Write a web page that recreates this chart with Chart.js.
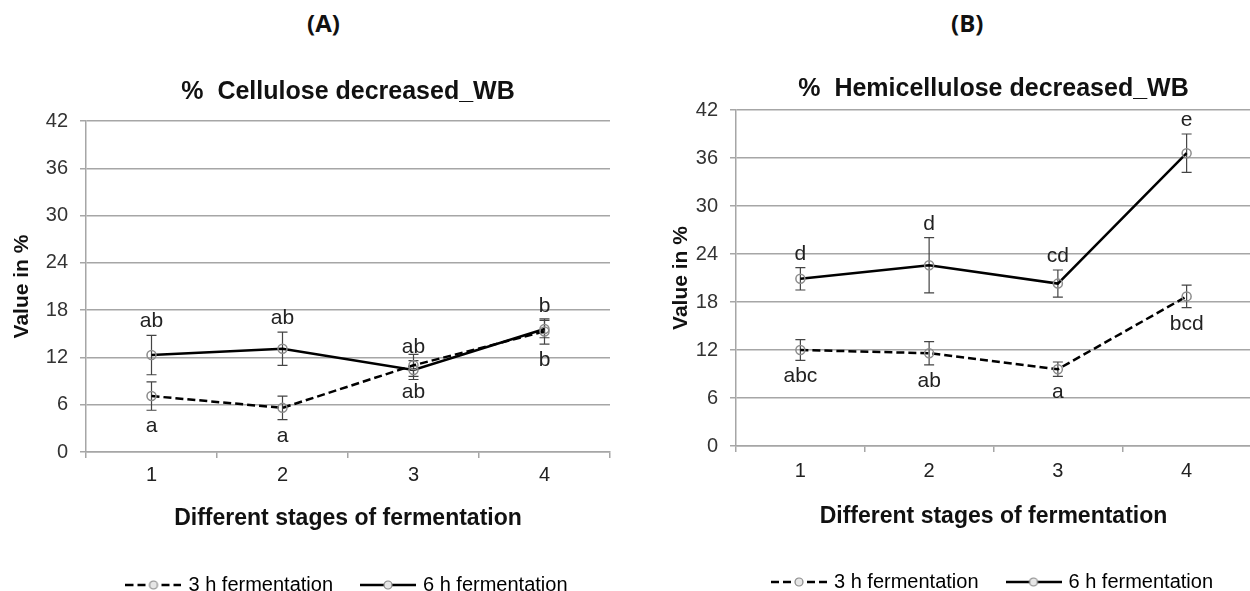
<!DOCTYPE html>
<html>
<head>
<meta charset="utf-8">
<script src="https://cdn.jsdelivr.net/npm/chart.js@4.4.0/dist/chart.umd.min.js"></script>
<style>
  html, body { margin: 0; padding: 0; width: 1250px; height: 591px; overflow: hidden; background: #fff; }
  .panel { position: absolute; top: 0; }
  .tag { position: absolute; top: 8px; font: bold 24px "Open Sans", sans-serif; color: #111; line-height: 30px; }
</style>
</head>
<body>
<div class="tag" style="left:307px">(A)</div>
<div class="tag" style="left:951px">(B)</div>
<div class="panel" style="left:0"><canvas id="chartA" width="625" height="605"></canvas></div>
<div class="panel" style="left:625px"><canvas id="chartB" width="632" height="602"></canvas></div>
<script>
// values (means and +/- error)
const stages = ['1', '2', '3', '4'];
const yMax = 42, yStep = 6;

const cellulose3h = [7.1, 5.6, 11.0, 15.3];
const cellulose3hErr = [1.8, 1.5, 1.4, 1.6];
const cellulose6h = [12.3, 13.1, 10.4, 15.6];
const cellulose6hErr = [2.5, 2.1, 1.2, 1.1];
const celluloseAbove = ['ab', 'ab', 'ab', 'b'];
const celluloseBelow = ['a', 'a', 'ab', 'b'];

const hemi3h = [12.0, 11.6, 9.6, 18.7];
const hemi3hErr = [1.3, 1.45, 0.9, 1.4];
const hemi6h = [20.9, 22.6, 20.3, 36.6];
const hemi6hErr = [1.4, 3.45, 1.7, 2.4];
const hemiAbove = ['d', 'd', 'cd', 'e'];
const hemiBelow = ['abc', 'ab', 'a', 'bcd'];

const FONT = '"Liberation Sans", Arial, sans-serif';
Chart.defaults.font.family = FONT;
const GRID = '#a6a6a6';

// error bars drawn from the y scale
const errorBars = {
  id: 'errorBars',
  beforeDatasetsDraw(chart) {
    const ctx = chart.ctx, y = chart.scales.y;
    ctx.save();
    ctx.strokeStyle = '#444';
    ctx.lineWidth = 1.2;
    chart.data.datasets.forEach((ds, di) => {
      chart.getDatasetMeta(di).data.forEach((pt, i) => {
        const top = y.getPixelForValue(ds.data[i] + ds.err[i]);
        const bot = y.getPixelForValue(ds.data[i] - ds.err[i]);
        ctx.beginPath();
        ctx.moveTo(pt.x, top); ctx.lineTo(pt.x, bot);
        ctx.moveTo(pt.x - 5, top); ctx.lineTo(pt.x + 5, top);
        ctx.moveTo(pt.x - 5, bot); ctx.lineTo(pt.x + 5, bot);
        ctx.stroke();
      });
    });
    ctx.restore();
  }
};

// significance letters above the 6 h bars and below the 3 h bars
const letters = {
  id: 'letters',
  afterDatasetsDraw(chart, args, opts) {
    const ctx = chart.ctx, y = chart.scales.y;
    const lo = chart.data.datasets[0], hi = chart.data.datasets[1];
    const meta = chart.getDatasetMeta(1);
    ctx.save();
    ctx.font = '21px ' + FONT;
    ctx.fillStyle = '#222';
    ctx.textAlign = 'center';
    ctx.textBaseline = 'alphabetic';
    opts.above.forEach((t, i) => {
      const x = meta.data[i].x;
      ctx.fillText(t, x, y.getPixelForValue(hi.data[i] + hi.err[i]) - 8);
      ctx.fillText(opts.below[i], x, y.getPixelForValue(lo.data[i] - lo.err[i]) + 22);
    });
    ctx.restore();
  }
};

function legendIcon(dash) {
  const c = document.createElement('canvas');
  c.width = 56; c.height = 14;
  const g = c.getContext('2d');
  g.strokeStyle = '#000';
  g.lineWidth = 2.5;
  g.setLineDash(dash);
  g.beginPath(); g.moveTo(0, 7); g.lineTo(56, 7); g.stroke();
  g.setLineDash([]);
  g.fillStyle = '#e6e6e6';
  g.strokeStyle = '#8c8c8c';
  g.lineWidth = 1.2;
  g.beginPath(); g.arc(28, 7, 4, 0, Math.PI * 2); g.fill(); g.stroke();
  return c;
}

function buildChart(id, o) {
  const series = (label, data, err, dash) => ({
    label: label, data: data, err: err,
    borderColor: '#000', borderWidth: 2.5, borderDash: dash,
    pointRadius: 4.5, pointBorderColor: '#8c8c8c', pointBorderWidth: 1.5,
    pointBackgroundColor: 'rgba(255,255,255,0)', tension: 0, fill: false
  });
  return new Chart(document.getElementById(id), {
    type: 'line',
    data: {
      labels: stages,
      datasets: [
        series('3 h fermentation', o.short, o.shortErr, [8, 4]),
        series('6 h fermentation', o.long, o.longErr, [])
      ]
    },
    plugins: [errorBars, letters],
    options: {
      responsive: false,
      animation: false,
      layout: { padding: { left: o.padLeft, right: o.padRight, top: 0, bottom: 0 } },
      scales: {
        x: {
          offset: true,
          grid: { offset: true, drawOnChartArea: false, tickLength: 6, color: GRID, lineWidth: 1.5 },
          border: { color: GRID, width: 1.5 },
          ticks: { padding: o.xPad, color: '#222', font: { size: 20 } },
          title: { display: true, text: 'Different stages of fermentation', color: '#111',
                   font: { size: 23, weight: 'bold' }, padding: { top: 0, bottom: o.xTitlePad } },
          afterFit: s => { s.height = o.xHeight; }
        },
        y: {
          min: 0, max: yMax,
          ticks: { stepSize: yStep, padding: 12, color: '#333', font: { size: 20 } },
          grid: { color: GRID, lineWidth: 1.5, tickLength: 6 },
          border: { color: GRID, width: 1.5 },
          title: { display: true, text: 'Value in %', color: '#111',
                   font: { size: 21, weight: 'bold' }, padding: { top: 4, bottom: 0 } },
          afterFit: s => { s.width = o.yWidth; }
        }
      },
      plugins: {
        title: { display: true, text: o.title, fullSize: false, color: '#111',
                 font: { size: 25, weight: 'bold' }, padding: { top: o.titleTop, bottom: o.titleBottom } },
        legend: {
          position: 'bottom', fullSize: false,
          labels: {
            usePointStyle: true, pointStyleWidth: 50, padding: 30, color: '#222', font: { size: 20 },
            generateLabels: chart => chart.data.datasets.map((ds, i) => ({
              text: ds.label, datasetIndex: i, hidden: false,
              pointStyle: legendIcon(ds.borderDash), lineWidth: 0,
              strokeStyle: 'rgba(0,0,0,0)', fillStyle: 'rgba(0,0,0,0)'
            }))
          }
        },
        tooltip: { enabled: false },
        letters: { above: o.above, below: o.below }
      }
    }
  });
}

buildChart('chartA', {
  title: '%  Cellulose decreased_WB',
  short: cellulose3h, shortErr: cellulose3hErr,
  long: cellulose6h, longErr: cellulose6hErr,
  above: celluloseAbove, below: celluloseBelow,
  padLeft: 6, padRight: 15, yWidth: 80,
  titleTop: 77, titleBottom: 14,
  xHeight: 93, xPad: 5, xTitlePad: 13
});

buildChart('chartB', {
  title: '%  Hemicellulose decreased_WB',
  short: hemi3h, shortErr: hemi3hErr,
  long: hemi6h, longErr: hemi6hErr,
  above: hemiAbove, below: hemiBelow,
  padLeft: 40, padRight: 0, yWidth: 71,
  titleTop: 74, titleBottom: 6,
  xHeight: 96, xPad: 7, xTitlePad: 12
});
</script>
</body>
</html>
